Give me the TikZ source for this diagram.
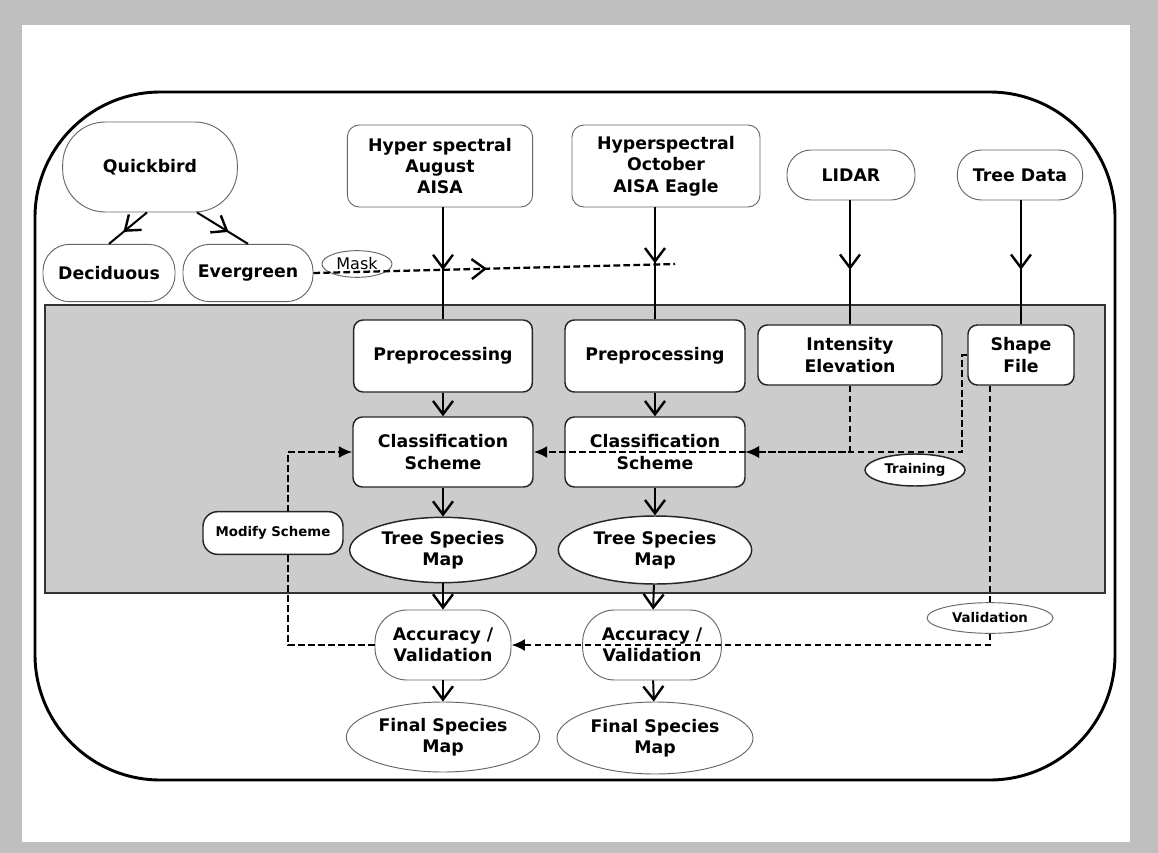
\documentclass[tikz,border=0pt]{standalone}
\usepackage{fontspec}
\setmainfont{DejaVu Sans}
\usetikzlibrary{arrows.meta,decorations.markings,calc,shapes.geometric}
\begin{document}
\begin{tikzpicture}[x=0.75pt,y=-0.75pt,
  base/.style={font=\fontsize{13}{16}\selectfont\bfseries, align=center, inner sep=0pt},
  small/.style={font=\fontsize{10}{12}\selectfont\bfseries},
  src/.style={base, draw=black!60, line width=0.7pt, fill=white},
  srcell/.style={src, ellipse},
  bandbox/.style={base, draw=black!85, line width=1.1pt, fill=white, rounded corners=7pt},
  bandell/.style={base, draw=black!85, line width=1.1pt, fill=white, ellipse},
  conn/.style={line width=1.5pt},
  dashline/.style={line width=1.7pt, dash pattern=on 5pt off 2.5pt},
  barbtip/.style={-{Straight Barb[length=10pt,width=15pt,line width=1.8pt]}},
  filltip/.style={-{Latex[length=10pt,width=9pt]}},
  midbarb/.style={postaction={decorate}, decoration={markings,
     mark=at position #1 with {\arrow{Straight Barb[length=10pt,width=15pt,line width=1.8pt]}}}}
]
\useasboundingbox (0,0) rectangle (1158,853);
\fill[black!25] (0,0) rectangle (1158,853);
\fill[white] (22,25) rectangle (1130,842);
% outer rounded frame
\draw[line width=2.2pt, rounded corners=94pt] (35,92) rectangle (1115,780);
% shaded processing band
\draw[fill=black!20, draw=black!80, line width=0.9pt] (45,305) rectangle (1105,593);

% source nodes
\node[src, rounded corners=32pt, minimum width=131pt, minimum height=67.5pt] (quick) at (150,167) {Quickbird};
\node[src, rounded corners=20pt, minimum width=99pt, minimum height=43pt] (decid) at (109,273) {Deciduous};
\node[src, rounded corners=20pt, minimum width=97.5pt, minimum height=43pt] (everg) at (248,273) {Evergreen};
\node[draw=black!60, line width=0.7pt, ellipse, minimum width=52.5pt, minimum height=20pt, inner sep=0pt, font=\fontsize{12}{14}\selectfont] (mask) at (357,264) {Mask};
\node[src, rounded corners=9pt, minimum width=139pt, minimum height=61.5pt] (hyp1) at (440,166) {Hyper spectral\\August\\AISA};
\node[src, rounded corners=9pt, minimum width=141pt, minimum height=61.5pt] (hyp2) at (666,166) {Hyperspectral\\October\\AISA Eagle};
\node[src, rounded corners=18pt, minimum width=96pt, minimum height=37.5pt] (lidar) at (851,175) {LIDAR};
\node[src, rounded corners=18pt, minimum width=94pt, minimum height=37.5pt] (tree) at (1020,175) {Tree Data};

% band nodes
\node[bandbox, minimum width=134pt, minimum height=54pt] (pre1) at (443,356) {Preprocessing};
\node[bandbox, minimum width=135pt, minimum height=54pt] (pre2) at (655,356) {Preprocessing};
\node[bandbox, minimum width=138pt, minimum height=45pt] (int) at (850,355) {Intensity\\Elevation};
\node[bandbox, minimum width=79.5pt, minimum height=45pt] (shp) at (1021,355) {Shape\\File};
\node[bandbox, minimum width=135pt, minimum height=52.5pt] (cls1) at (443,452) {Classification\\Scheme};
\node[bandbox, minimum width=135pt, minimum height=52.5pt] (cls2) at (655,452) {Classification\\Scheme};
\node[bandell, minimum width=140pt, minimum height=49pt] (tsm1) at (443,550) {Tree Species\\Map};
\node[bandell, minimum width=145pt, minimum height=51pt] (tsm2) at (655,550) {Tree Species\\Map};
\node[bandell, small, minimum width=75pt, minimum height=24pt] (train) at (915,470) {Training};

% lower nodes
\node[src, rounded corners=24pt, minimum width=102pt, minimum height=52.5pt] (acc1) at (443,645) {Accuracy /\\Validation};
\node[src, rounded corners=24pt, minimum width=104pt, minimum height=52.5pt] (acc2) at (652,645) {Accuracy /\\Validation};
\node[srcell, minimum width=145pt, minimum height=52.5pt] (fin1) at (443,737) {Final Species\\Map};
\node[srcell, minimum width=147pt, minimum height=54pt] (fin2) at (655,738) {Final Species\\Map};
\node[srcell, small, minimum width=94.5pt, minimum height=23pt] (valid) at (990,618) {Validation};

% quickbird split
\draw[conn, midbarb=0.62] ($(quick.south)+(-3,0)$) -- (decid.north);
\draw[conn, midbarb=0.62] ($(quick.south)+(47,0)$) -- (everg.north);

% mask line
\coordinate (mend) at (675,264);
\draw[dashline, midbarb=0.48] (everg.east) -- (mend);

% source inputs
\draw[conn, midbarb=0.56] (hyp1.south -| pre1.north) -- (pre1.north);
\draw[conn, midbarb=0.50] (hyp2.south -| pre2.north) -- (pre2.north);
\draw[conn, midbarb=0.56] (lidar.south -| int.north) -- (int.north);
\draw[conn, midbarb=0.56] (tree.south -| shp.north) -- (shp.north);

% column flows
\draw[conn, barbtip] (pre1) -- (cls1);
\draw[conn, barbtip] (cls1) -- (tsm1);
\draw[conn, barbtip] (tsm1) -- (acc1);
\draw[conn, barbtip] (acc1) -- (fin1);
\draw[conn, barbtip] (pre2) -- (cls2);
\draw[conn, barbtip] (cls2) -- (tsm2);
\draw[conn, barbtip] (tsm2) -- (acc2);
\draw[conn, barbtip] (acc2) -- (fin2);

% training
\draw[dashline, filltip] (int.south) |- (cls2.east);
\draw[dashline, filltip] (shp.west) -- ++(-5,0) |- (cls2.east);
\draw[dashline, filltip] (cls2.east) -- (cls1.east);

% validation
\draw[dashline] (shp.south -| valid.north) -- (valid.north);
\draw[dashline, filltip] (valid.south) |- (acc1.east);

% modify scheme loop
\coordinate (mc) at (288,533);
\draw[dashline, filltip] (acc1.west) -| (mc) |- (cls1.west);
\node[bandbox, small, rounded corners=11pt, minimum width=105pt, minimum height=32pt] (mod) at (273,533) {Modify Scheme};
\end{tikzpicture}
\end{document}
